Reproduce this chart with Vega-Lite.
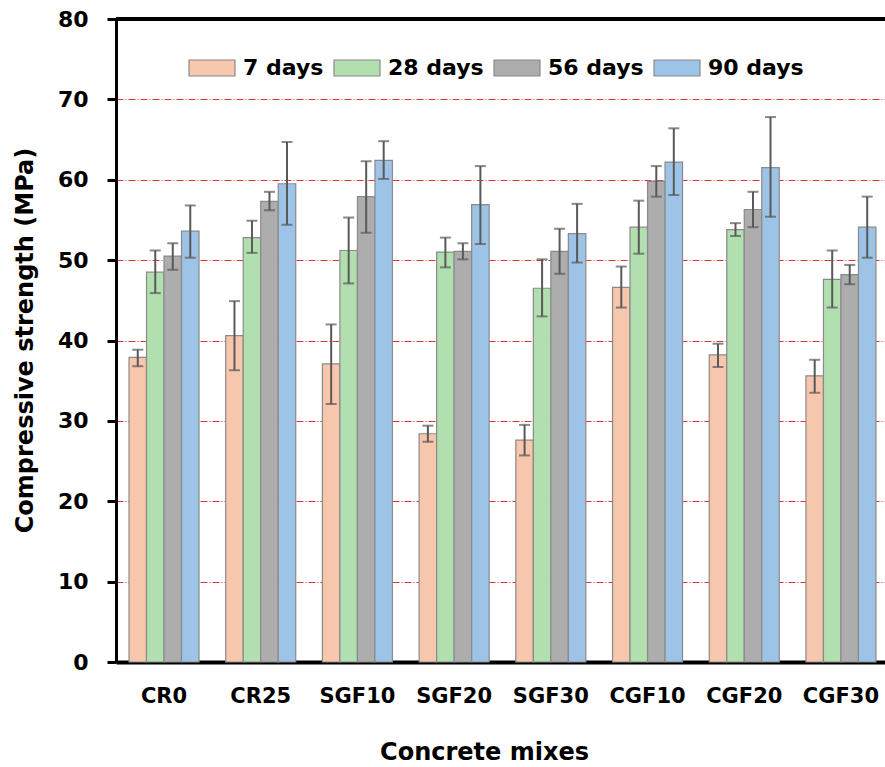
{
  "$schema": "https://vega.github.io/schema/vega-lite/v6.json",
  "autosize": "none",
  "width": 769,
  "height": 643,
  "padding": {"left": 116, "top": 19, "right": 0, "bottom": 105},
  "background": "white",
  "config": {
    "view": {"stroke": null},
    "font": "DejaVu Sans",
    "axis": {"labelFont": "DejaVu Sans", "titleFont": "DejaVu Sans", "labelFontWeight": "bold", "titleFontWeight": "bold", "labelColor": "black", "titleColor": "black"}
  },
  "data": {
    "values": [
      {"mix": "CR0", "period": "7 days", "value": 37.9, "lo": 36.8, "hi": 38.85},
      {"mix": "CR0", "period": "28 days", "value": 48.5, "lo": 45.9, "hi": 51.2},
      {"mix": "CR0", "period": "56 days", "value": 50.5, "lo": 48.8, "hi": 52.1},
      {"mix": "CR0", "period": "90 days", "value": 53.6, "lo": 50.3, "hi": 56.8},
      {"mix": "CR25", "period": "7 days", "value": 40.6, "lo": 36.3, "hi": 44.9},
      {"mix": "CR25", "period": "28 days", "value": 52.8, "lo": 50.9, "hi": 54.9},
      {"mix": "CR25", "period": "56 days", "value": 57.3, "lo": 56.2, "hi": 58.5},
      {"mix": "CR25", "period": "90 days", "value": 59.5, "lo": 54.4, "hi": 64.7},
      {"mix": "SGF10", "period": "7 days", "value": 37.1, "lo": 32.1, "hi": 42.0},
      {"mix": "SGF10", "period": "28 days", "value": 51.2, "lo": 47.1, "hi": 55.3},
      {"mix": "SGF10", "period": "56 days", "value": 57.9, "lo": 53.4, "hi": 62.3},
      {"mix": "SGF10", "period": "90 days", "value": 62.4, "lo": 60.1, "hi": 64.8},
      {"mix": "SGF20", "period": "7 days", "value": 28.4, "lo": 27.4, "hi": 29.4},
      {"mix": "SGF20", "period": "28 days", "value": 51.0, "lo": 49.1, "hi": 52.8},
      {"mix": "SGF20", "period": "56 days", "value": 51.1, "lo": 50.1, "hi": 52.1},
      {"mix": "SGF20", "period": "90 days", "value": 56.9, "lo": 52.0, "hi": 61.7},
      {"mix": "SGF30", "period": "7 days", "value": 27.6, "lo": 25.7, "hi": 29.5},
      {"mix": "SGF30", "period": "28 days", "value": 46.5, "lo": 43.0, "hi": 50.1},
      {"mix": "SGF30", "period": "56 days", "value": 51.1, "lo": 48.3, "hi": 53.9},
      {"mix": "SGF30", "period": "90 days", "value": 53.3, "lo": 49.7, "hi": 57.0},
      {"mix": "CGF10", "period": "7 days", "value": 46.6, "lo": 44.1, "hi": 49.2},
      {"mix": "CGF10", "period": "28 days", "value": 54.1, "lo": 50.8, "hi": 57.4},
      {"mix": "CGF10", "period": "56 days", "value": 59.8, "lo": 57.9, "hi": 61.7},
      {"mix": "CGF10", "period": "90 days", "value": 62.2, "lo": 58.1, "hi": 66.4},
      {"mix": "CGF20", "period": "7 days", "value": 38.2, "lo": 36.7, "hi": 39.6},
      {"mix": "CGF20", "period": "28 days", "value": 53.8, "lo": 53.0, "hi": 54.6},
      {"mix": "CGF20", "period": "56 days", "value": 56.3, "lo": 54.1, "hi": 58.5},
      {"mix": "CGF20", "period": "90 days", "value": 61.5, "lo": 55.4, "hi": 67.8},
      {"mix": "CGF30", "period": "7 days", "value": 35.6, "lo": 33.5, "hi": 37.6},
      {"mix": "CGF30", "period": "28 days", "value": 47.6, "lo": 44.1, "hi": 51.2},
      {"mix": "CGF30", "period": "56 days", "value": 48.2, "lo": 47.0, "hi": 49.4},
      {"mix": "CGF30", "period": "90 days", "value": 54.1, "lo": 50.3, "hi": 57.9}
    ]
  },
  "encoding": {
    "x": {
      "field": "mix", "type": "nominal", "sort": null,
      "scale": {"paddingInner": 0.276, "paddingOuter": 0.114, "align": 0.59},
      "axis": {
        "title": "Concrete mixes", "labelAngle": 0, "ticks": false, "grid": false,
        "domainColor": "black", "domainWidth": 4,
        "labelFontSize": 21, "labelPadding": 23, "labelBaseline": "top",
        "titleFontSize": 24, "titleX": 368, "titleY": 90, "titleBaseline": "middle", "titleAlign": "center", "titleAnchor": null
      }
    },
    "xOffset": {"field": "period", "type": "nominal", "sort": ["7 days", "28 days", "56 days", "90 days"], "scale": {"paddingInner": 0, "paddingOuter": 0}}
  },
  "layer": [
    {
      "mark": {"type": "bar", "stroke": "#8a8a8a", "strokeWidth": 1.2, "opacity": 1},
      "encoding": {
        "y": {
          "field": "value", "type": "quantitative",
          "scale": {"domain": [0, 80], "nice": false},
          "axis": {
            "title": "Compressive strength (MPa)", "values": [0, 10, 20, 30, 40, 50, 60, 70, 80],
            "grid": true, "gridColor": "#e03434", "gridDash": [7, 2, 1, 2], "gridWidth": 1.2,
            "domainColor": "black", "domainWidth": 3,
            "ticks": true, "tickColor": "black", "tickWidth": 3, "tickSize": 9,
            "labelFontSize": 22, "labelPadding": 19,
            "titleFontSize": 24, "titleAngle": 270, "titleX": -91, "titleY": 321, "titleAlign": "center", "titleBaseline": "middle", "titleAnchor": null
          }
        },
        "color": {
          "field": "period", "type": "nominal",
          "scale": {"domain": ["7 days", "28 days", "56 days", "90 days"], "range": ["#F6C6AD", "#B2DFB0", "#ADADAD", "#9DC3E6"]},
          "legend": {
            "title": null, "orient": "none", "direction": "horizontal", "legendX": 70, "legendY": 38,
            "symbolType": "M-1,-1H4.75V1H-1Z", "symbolSize": 256, "symbolStrokeColor": "#8a8a8a", "symbolStrokeWidth": 1.2, "symbolOpacity": 1,
            "labelFontSize": 22, "labelFont": "DejaVu Sans", "labelFontWeight": "bold", "labelColor": "black",
            "labelOffset": 35, "columnPadding": 7, "padding": 0, "labelLimit": 300
          }
        }
      }
    },
    {
      "mark": {"type": "rule", "color": "#595959", "strokeWidth": 2},
      "encoding": {
        "y": {"field": "lo", "type": "quantitative"},
        "y2": {"field": "hi"}
      }
    },
    {
      "mark": {"type": "tick", "color": "#595959", "thickness": 2, "size": 11},
      "encoding": {"y": {"field": "lo", "type": "quantitative"}}
    },
    {
      "mark": {"type": "tick", "color": "#595959", "thickness": 2, "size": 11},
      "encoding": {"y": {"field": "hi", "type": "quantitative"}}
    },
    {
      "mark": {"type": "rule", "color": "black", "strokeWidth": 3},
      "encoding": {"y": {"datum": 80, "type": "quantitative"}, "x": {"value": 0}, "x2": {"value": 769}, "xOffset": null}
    }
  ]
}
